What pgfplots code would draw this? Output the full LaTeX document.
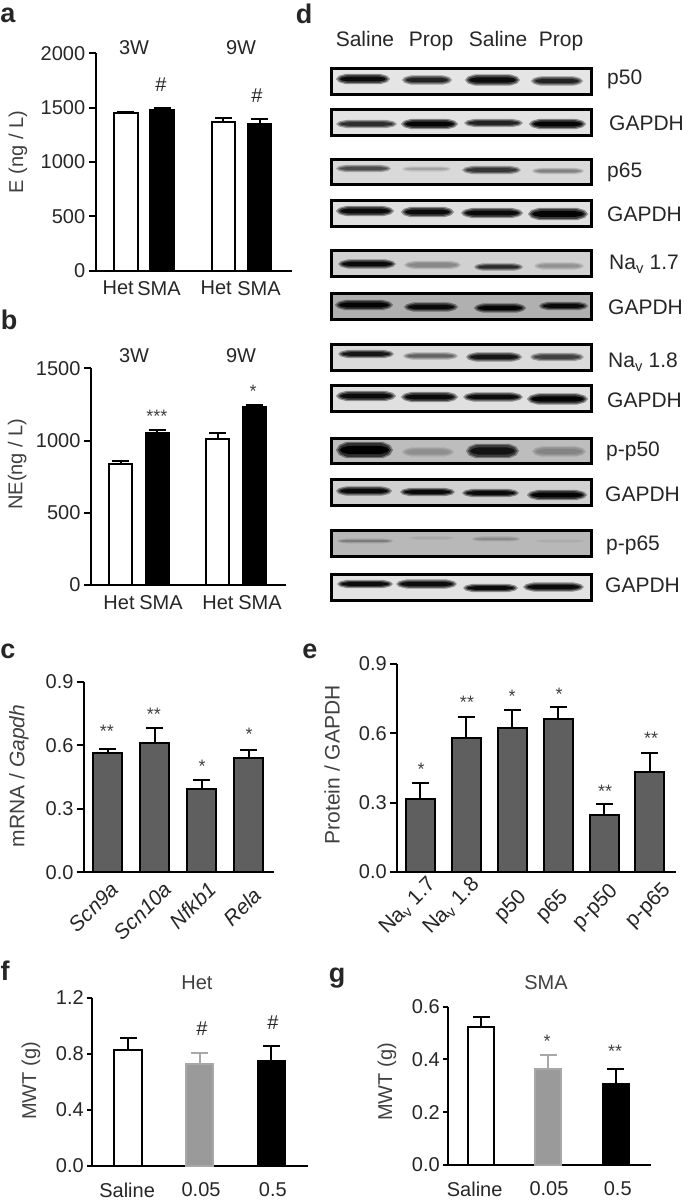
\documentclass[border=0pt]{standalone}
\usepackage{fontspec}
\setmainfont{Liberation Sans}
\usepackage{pgfplots}
\pgfplotsset{compat=1.18}

\definecolor{txt}{HTML}{262626}
\definecolor{lab}{HTML}{404040}
\definecolor{bardark}{HTML}{5F5F5F}
\definecolor{bargrey}{HTML}{9A9A9A}
\definecolor{linegrey}{HTML}{A8A8A8}
\definecolor{bg90}{gray}{0.90}\definecolor{bg89}{gray}{0.89}\definecolor{bg88}{gray}{0.88}
\definecolor{bg86}{gray}{0.86}\definecolor{bg85}{gray}{0.85}\definecolor{bg82}{gray}{0.82}
\definecolor{bg74}{gray}{0.74}\definecolor{bg72}{gray}{0.72}\definecolor{bg69}{gray}{0.69}
\newcommand{\fa}{\fontsize{20}{24}\selectfont}
\newcommand{\fb}{\fontsize{21}{25}\selectfont}

\pgfplotsset{
  panel/.style={
    scale only axis, clip=false,
    axis lines=left, axis line style={-,line width=2pt,black},
    ymin=0, tick align=outside,
    major tick length=7pt, tick style={line width=2pt,black},
    xtick style={draw=none},
    every tick label/.append style={font=\fa,text=txt},
    every axis title shift=0pt,
  },
  ylab/.style n args={3}{every axis y label/.style={at={(axis description cs:#1,#2)},rotate=90,anchor=center,font=#3,text=lab}},
  barbase/.style={
    ybar, bar shift=0pt, bar width=#1, line width=2pt,
    error bars/y dir=plus, error bars/y explicit,
    error bars/error bar style={line width=2pt},
    error bars/error mark options={rotate=90,line width=2pt,mark size=8.5pt},
  },
  barW/.style={barbase=#1,draw=black,fill=white},
  barK/.style={barbase=#1,draw=black,fill=black},
  barD/.style={barbase=#1,draw=black,fill=bardark},
  barG/.style={barbase=#1,draw=linegrey,fill=bargrey,
    error bars/error bar style={line width=2pt,linegrey},
    error bars/error mark options={rotate=90,line width=2pt,mark size=8.5pt,linegrey}},
}
\tikzset{star/.style={font=\fontsize{18}{20}\selectfont,text=lab,yshift=-4pt}}

% blot helpers, everything in picture pixels
\newcommand{\lens}[5]{%
  \pgfmathsetmacro\lxa{#1}\pgfmathsetmacro\lxd{#2}
  \pgfmathsetmacro\lxb{\lxa+0.05*(\lxd-\lxa)}\pgfmathsetmacro\lxc{\lxa+0.18*(\lxd-\lxa)}
  \pgfmathsetmacro\lxe{\lxd-0.18*(\lxd-\lxa)}\pgfmathsetmacro\lxf{\lxd-0.05*(\lxd-\lxa)}
  \pgfmathsetmacro\lyt{#3-(#4)}\pgfmathsetmacro\lyb{#3+(#4)}
  \pgfmathsetmacro\lyu{#3-0.6*(#4)}\pgfmathsetmacro\lyv{#3+0.6*(#4)}
  \edef\temp{\noexpand\addplot[draw=none,fill=#5,forget plot] coordinates
    {(\lxa,#3)(\lxb,\lyu)(\lxc,\lyt)(\lxe,\lyt)(\lxf,\lyu)(\lxd,#3)(\lxf,\lyv)(\lxe,\lyb)(\lxc,\lyb)(\lxb,\lyv)} --cycle;}\temp}
\newcommand{\band}[6]{% background, x1, x2, y, half thickness, darkness
  \pgfmathsetmacro\dlo{0.40*#6}\pgfmathsetmacro\dmi{0.75*#6}
  \edef\cola{black!\dlo!#1}\edef\colb{black!\dmi!#1}\edef\colc{black!#6!#1}
  \lens{#2-1}{#3+1}{#4}{#5+1.2}{\cola}
  \lens{#2+1}{#3-1}{#4}{#5}{\colb}
  \lens{#2+3}{#3-3}{#4}{0.6*#5}{\colc}}
\newcommand{\blotbox}[3]{%
  \addplot[draw=black,line width=2.2pt,fill=#3,forget plot]
    coordinates {(331.5,#1)(591.5,#1)(591.5,#2)(331.5,#2)} --cycle;}

\begin{document}
\begin{tikzpicture}[x=1pt,y=1pt]
\path[use as bounding box] (0,0) rectangle (685,1200);

% a
\begin{axis}[panel, at={(95.7pt,929.3pt)}, anchor=south west, width=196.3pt, height=217.4pt,
  xmin=-0.828, xmax=4.58, ymax=2000,
  ytick={0,500,1000,1500,2000}, yticklabels={0,500,1000,1500,2000},
  xtick={-0.21,0.916,2.49,3.67}, xticklabels={Het,SMA,Het,SMA},
  ylabel={E (ng / L)}, ylab={-0.396}{0.546}{\fa}]
\addplot[barW=23.5pt] coordinates {(0,1450) +- (0,8)};
\addplot[barK=23.5pt] coordinates {(1,1480) +- (0,17)};
\addplot[barW=23.5pt] coordinates {(2.69,1370) +- (0,32)};
\addplot[barK=23.5pt] coordinates {(3.69,1345) +- (0,50)};
\end{axis}

% b
\begin{axis}[panel, at={(91pt,615pt)}, anchor=south west, width=195pt, height=216.7pt,
  xmin=-0.806, xmax=4.52, ymax=1500,
  ytick={0,500,1000,1500}, yticklabels={0,500,1000,1500},
  xtick={-0.04,1.107,2.66,3.81}, xticklabels={Het,SMA,Het,SMA},
  ylabel={NE(ng / L)}, ylab={-0.379}{0.558}{\fa}]
\addplot[barW=23pt] coordinates {(0,838) +- (0,20)};
\addplot[barK=23pt] coordinates {(1,1052) +- (0,21)};
\addplot[barW=23pt] coordinates {(2.65,1011) +- (0,41)};
\addplot[barK=23pt] coordinates {(3.65,1230) +- (0,16)};
\end{axis}

% c
\begin{axis}[panel, at={(84pt,327.7pt)}, anchor=south west, width=190pt, height=190.6pt,
  xmin=-0.5, xmax=3.54, ymax=0.9,
  ytick={0,0.3,0.6,0.9}, yticklabels={0.0,0.3,0.6,0.9},
  xtick={0.12,1.25,2.19,3.28},
  xticklabels={\textit{Scn9a},\textit{Scn10a},\textit{Nfkb1},\textit{Rela}\hspace*{8pt}},
  xticklabel style={rotate=45,anchor=east,font=\fb,yshift=-6pt},
  ylabel={mRNA / \textit{Gapdh}}, ylab={-0.342}{0.505}{\fb}]
\addplot[barD=29.6pt] coordinates {(0,0.565) +- (0,0.017)};
\addplot[barD=29.6pt] coordinates {(1,0.609) +- (0,0.071)};
\addplot[barD=29.6pt] coordinates {(2,0.392) +- (0,0.045)};
\addplot[barD=29.6pt] coordinates {(3,0.540) +- (0,0.036)};
\end{axis}

% e
\begin{axis}[panel, at={(397.3pt,328pt)}, anchor=south west, width=278.7pt, height=208.3pt,
  xmin=-0.5, xmax=5.567, ymax=0.9,
  ytick={0,0.3,0.6,0.9}, yticklabels={0.0,0.3,0.6,0.9},
  xtick={0.32,1.27,2.58,3.48,4.44,5.56},
  xticklabels={Na\textsubscript{v} 1.7,Na\textsubscript{v} 1.8,p50\hspace*{18pt},p65\hspace*{18pt},p-p50\hspace*{10pt},p-p65\hspace*{8pt}},
  xticklabel style={rotate=45,anchor=east,font=\fb},
  ylabel={Protein / GAPDH}, ylab={-0.234}{0.514}{\fb}]
\addplot[barD=29pt] coordinates {(0,0.314) +- (0,0.072)};
\addplot[barD=29pt] coordinates {(1,0.579) +- (0,0.091)};
\addplot[barD=29pt] coordinates {(2,0.623) +- (0,0.077)};
\addplot[barD=29pt] coordinates {(3,0.660) +- (0,0.053)};
\addplot[barD=29pt] coordinates {(4,0.246) +- (0,0.046)};
\addplot[barD=29pt] coordinates {(5,0.432) +- (0,0.081)};
\end{axis}

% f
\begin{axis}[panel, at={(92.3pt,34pt)}, anchor=south west, width=215.7pt, height=168.3pt,
  xmin=-0.5, xmax=2.51, ymax=1.2, major tick length=5pt,
  ytick={0,0.4,0.8,1.2}, yticklabels={0.0,0.4,0.8,1.2},
  xtick={-0.014,1.018,2.02}, xticklabels={Saline,0.05,0.5},
  xticklabel style={yshift=-8pt},
  title={Het}, title style={at={(axis description cs:0.485,1.087)},anchor=center,font=\fa,text=lab},
  ylabel={MWT (g)}, ylab={-0.284}{0.505}{\fa}]
\addplot[barW=27.4pt] coordinates {(0,0.827) +- (0,0.088)};
\addplot[barG=27.4pt] coordinates {(1,0.725) +- (0,0.081)};
\addplot[barK=27.4pt] coordinates {(2,0.746) +- (0,0.110)};
\end{axis}

% g
\begin{axis}[panel, at={(448.3pt,35pt)}, anchor=south west, width=202.4pt, height=158.3pt,
  xmin=-0.49, xmax=2.52, ymax=0.6, major tick length=5pt,
  ytick={0,0.2,0.4,0.6}, yticklabels={0.0,0.2,0.4,0.6},
  xtick={-0.098,1.007,2.03}, xticklabels={Saline,0.05,0.5},
  xticklabel style={yshift=-8pt},
  title={SMA}, title style={at={(axis description cs:0.483,1.15)},anchor=center,font=\fa,text=lab},
  ylabel={MWT (g)}, ylab={-0.303}{0.524}{\fa}]
\addplot[barW=26pt] coordinates {(0,0.524) +- (0,0.038)};
\addplot[barG=26pt] coordinates {(1,0.365) +- (0,0.051)};
\addplot[barK=26pt] coordinates {(2,0.306) +- (0,0.058)};
\end{axis}

% d, blots
\begin{axis}[at={(330pt,590pt)}, anchor=south west, scale only axis, hide axis, clip=false,
  width=263pt, height=550pt, xmin=330, xmax=593, ymin=60, ymax=610, y dir=reverse]
\blotbox{68.5}{94.5}{bg90}
\band{bg90}{337}{389}{79}{4}{95}\band{bg90}{403}{451}{80}{3.5}{85}\band{bg90}{466}{519}{80}{4.5}{95}\band{bg90}{532}{582}{81}{3.5}{85}
\blotbox{109.5}{135.5}{bg89}
\band{bg89}{337}{396}{124}{3}{80}\band{bg89}{402}{457}{124}{4}{98}\band{bg89}{465}{522}{123}{3}{85}\band{bg89}{530}{585}{124}{4}{98}
\blotbox{159.5}{184.5}{bg85}
\band{bg85}{337}{390}{168.5}{2.5}{65}\band{bg85}{403}{450}{169}{1.5}{25}\band{bg85}{463}{520}{170}{3}{75}\band{bg85}{533}{583}{171}{2}{40}
\blotbox{200.5}{226.5}{bg88}
\band{bg88}{337}{393}{211}{4}{95}\band{bg88}{402}{453}{212}{4}{95}\band{bg88}{462}{522}{213}{4}{95}\band{bg88}{529}{587}{214}{5}{98}
\blotbox{250.5}{276.5}{bg82}
\band{bg82}{339}{395}{264}{3.5}{95}\band{bg82}{405}{460}{265}{3}{35}\band{bg82}{475}{522}{267}{2.5}{80}\band{bg82}{535}{583}{266}{2.5}{30}
\blotbox{293.5}{319.5}{bg69}
\band{bg69}{336}{392}{305}{4}{98}\band{bg69}{405}{457}{307}{3.5}{95}\band{bg69}{475}{525}{308}{3.5}{98}\band{bg69}{540}{587}{306}{3}{95}
\blotbox{344.5}{370.5}{bg86}
\band{bg86}{339}{393}{354}{3}{90}\band{bg86}{404}{457}{356}{2.5}{55}\band{bg86}{467}{521}{357}{3.5}{90}\band{bg86}{531}{583}{357}{3}{70}
\blotbox{385.5}{411.5}{bg88}
\band{bg88}{337}{395}{396}{4}{95}\band{bg88}{402}{457}{397}{4}{95}\band{bg88}{464}{522}{397}{3.5}{95}\band{bg88}{528}{587}{399}{4.5}{98}
\blotbox{438.5}{463.5}{bg74}
\band{bg74}{337}{392}{450}{7}{100}\band{bg74}{403}{453}{452}{3.5}{25}\band{bg74}{467}{518}{451}{6}{90}\band{bg74}{533}{585}{451.5}{4}{30}
\blotbox{479.5}{505.5}{bg82}
\band{bg82}{337}{391}{491}{3.5}{95}\band{bg82}{401}{454}{492}{3}{95}\band{bg82}{463}{518}{493}{3}{95}\band{bg82}{528}{586}{495}{4}{98}
\blotbox{530.5}{556.5}{bg72}
\band{bg72}{338}{392}{541}{1.2}{35}\band{bg72}{410}{453}{538}{0.6}{10}\band{bg72}{473}{519}{539}{1.3}{25}\band{bg72}{537}{583}{541}{0.6}{8}
\blotbox{574.5}{600.5}{bg89}
\band{bg89}{338}{392}{584}{3}{95}\band{bg89}{397}{456}{584}{3.5}{95}\band{bg89}{464}{517}{588}{3}{95}\band{bg89}{524}{583}{587}{3.5}{95}
\end{axis}

\begin{scope}[y=-1pt,yshift=1200pt]
% panel letters
\begin{scope}[every node/.style={font=\fontsize{27}{30}\selectfont\bfseries,text=txt,inner sep=0pt}]
\node at (8,15) {a}; \node at (304,14) {d}; \node at (9,320) {b};
\node at (8,651) {c}; \node at (310,651) {e}; \node at (5,971) {f}; \node at (337,978) {g};
\end{scope}

% group labels and significance marks
\begin{scope}[every node/.style={font=\fa,text=txt,inner sep=0pt}]
\node at (134,48) {3W}; \node at (241,48) {9W};
\node at (134,356) {3W}; \node at (241,356) {9W};
\node at (161,85) {\#}; \node at (257,96) {\#};
\node at (202,1029) {\#}; \node at (273,1023) {\#};
\end{scope}
\node[star] at (157,412) {***}; \node[star] at (253,387) {*};
\node[star] at (107,727) {**}; \node[star] at (154,710) {**};
\node[star] at (202,762) {*}; \node[star] at (249,730) {*};
\node[star] at (421,765) {*}; \node[star] at (467,698) {**};
\node[star] at (512,692) {*}; \node[star] at (559,690) {*};
\node[star] at (605,787) {**}; \node[star] at (651,734) {**};
\node[star] at (547,1037) {*}; \node[star] at (615,1047) {**};

% blot labels
\begin{scope}[every node/.style={font=\fb,text=txt,inner sep=0pt,anchor=base}]
\node at (365,47) {Saline}; \node at (431,47) {Prop};
\node at (498,47) {Saline}; \node at (561,47) {Prop};
\end{scope}
\begin{scope}[every node/.style={font=\fb,text=txt,inner sep=0pt,anchor=base west}]
\node at (607,85) {p50}; \node at (609,131) {GAPDH};
\node at (607,178) {p65}; \node at (607,222) {GAPDH};
\node at (609,270) {Na\textsubscript{v} 1.7}; \node at (608,315) {GAPDH};
\node at (608,368) {Na\textsubscript{v} 1.8}; \node at (607,408) {GAPDH};
\node at (606,457) {p-p50}; \node at (605,502) {GAPDH};
\node at (606,551) {p-p65}; \node at (605,593) {GAPDH};
\end{scope}
\end{scope}
\end{tikzpicture}
\end{document}
